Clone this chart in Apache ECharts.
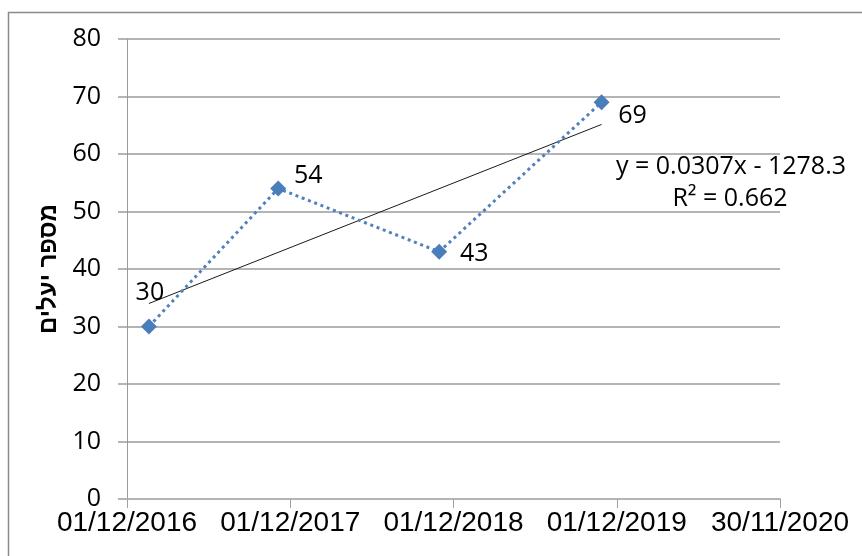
<!DOCTYPE html>
<html>
<head>
<meta charset="utf-8">
<script src="https://cdn.jsdelivr.net/npm/echarts@6/dist/echarts.min.js"></script>
<style>
html,body{margin:0;padding:0;background:#fff;}
#chart{width:862px;height:556px;}
</style>
</head>
<body>
<div id="chart"></div>
<script>
// ---- data ----
const dates = ['2017-01-19', '2017-11-04', '2018-10-30', '2019-10-28'];
const values = [30, 54, 43, 69];
const xAxisStart = '2016-12-01';
const xAxisEnd = '2020-11-30';
const xTickDays = 365;
const yMin = 0, yMax = 80, yStep = 10;
const yAxisTitle = 'מספר יעלים';
const trendLabel = ['y = 0.0307x - 1278.3', 'R² = 0.662'];

// ---- helpers ----
const BASE = Date.UTC(1899, 11, 30);
function toSerial(d) { return Math.round((Date.parse(d + 'T00:00:00Z') - BASE) / 86400000); }
function fmt(serial) {
  const d = new Date(BASE + serial * 86400000);
  const p = n => String(n).padStart(2, '0');
  return p(d.getUTCDate()) + '/' + p(d.getUTCMonth() + 1) + '/' + d.getUTCFullYear();
}
const xs = dates.map(toSerial);
const pts = xs.map((x, i) => [x, values[i]]);

// linear least squares trend line (through the data extent)
const n = xs.length;
const mx = xs.reduce((a, b) => a + b, 0) / n;
const my = values.reduce((a, b) => a + b, 0) / n;
let sxy = 0, sxx = 0;
xs.forEach((x, i) => { sxy += (x - mx) * (values[i] - my); sxx += (x - mx) * (x - mx); });
const slope = sxy / sxx, icpt = my - slope * mx;
const xLo = Math.min(...xs), xHi = Math.max(...xs);
const trendPts = [[xLo, icpt + slope * xLo], [xHi, icpt + slope * xHi]];

// label placement (style, not data)
const labelOffsets = [[1, -34], [30, -13], [35, 2], [31, 14]];

const labelFont = '"Open Sans", "Liberation Sans", sans-serif';

const chart = echarts.init(document.getElementById('chart'), null, { renderer: 'canvas' });
chart.setOption({
  animation: false,
  backgroundColor: '#ffffff',
  grid: { left: 127, right: 82, top: 39, bottom: 57, containLabel: false },
  xAxis: {
    type: 'value',
    min: toSerial(xAxisStart),
    max: toSerial(xAxisEnd),
    interval: xTickDays,
    splitLine: { show: false },
    axisLine: { show: true, lineStyle: { color: '#b4b4b4', width: 2 } },
    axisTick: { show: true, length: 9, lineStyle: { color: '#a0a0a0', width: 1 } },
    axisLabel: {
      formatter: v => fmt(v),
      color: '#000', fontSize: 28, margin: 10,
      fontFamily: '"Liberation Sans", Arial, sans-serif',
      showMinLabel: true, showMaxLabel: true, hideOverlap: false
    }
  },
  yAxis: {
    type: 'value',
    min: yMin, max: yMax, interval: yStep,
    name: yAxisTitle,
    nameLocation: 'middle',
    nameRotate: 90,
    nameGap: 66,
    nameTextStyle: { fontSize: 24, fontWeight: 'bold', color: '#000', fontFamily: '"Liberation Sans", "DejaVu Sans", sans-serif' },
    axisLine: { show: true, lineStyle: { color: '#9a9a9a', width: 1 } },
    axisTick: { show: true, length: 9, lineStyle: { color: '#b4b4b4', width: 2 } },
    splitLine: { show: true, lineStyle: { color: '#b4b4b4', width: 2 } },
    axisLabel: { color: '#000', fontSize: 25, margin: 26, fontFamily: labelFont }
  },
  series: [
    {
      type: 'line',
      data: pts.map((p, i) => ({
        value: p,
        label: { show: true, position: 'inside', offset: labelOffsets[i] }
      })),
      symbol: 'diamond',
      symbolSize: 16,
      itemStyle: { color: '#4a7ebb' },
      lineStyle: { color: '#4f81bd', width: 3, type: [3, 3.7] },
      label: {
        show: true, formatter: p => p.value[1],
        color: '#000', fontSize: 25, fontFamily: labelFont,
        align: 'center', verticalAlign: 'middle'
      },
      z: 3
    },
    {
      type: 'line',
      data: trendPts,
      symbol: 'none',
      lineStyle: { color: '#1a1a1a', width: 1 },
      silent: true,
      z: 2
    }
  ],
  graphic: [
    { type: 'rect', shape: { x: 8.5, y: 12.5, width: 1000, height: 800 }, style: { fill: null, stroke: '#8a8a8a', lineWidth: 1.5 }, silent: true, z: -1 },
    { type: 'text', x: 731, y: 167, style: { text: trendLabel[0], font: '25px ' + labelFont, fill: '#000', align: 'center', verticalAlign: 'middle' } },
    { type: 'text', x: 730, y: 199, style: { text: trendLabel[1], font: '25px ' + labelFont, fill: '#000', align: 'center', verticalAlign: 'middle' } }
  ]
});
</script>
</body>
</html>
